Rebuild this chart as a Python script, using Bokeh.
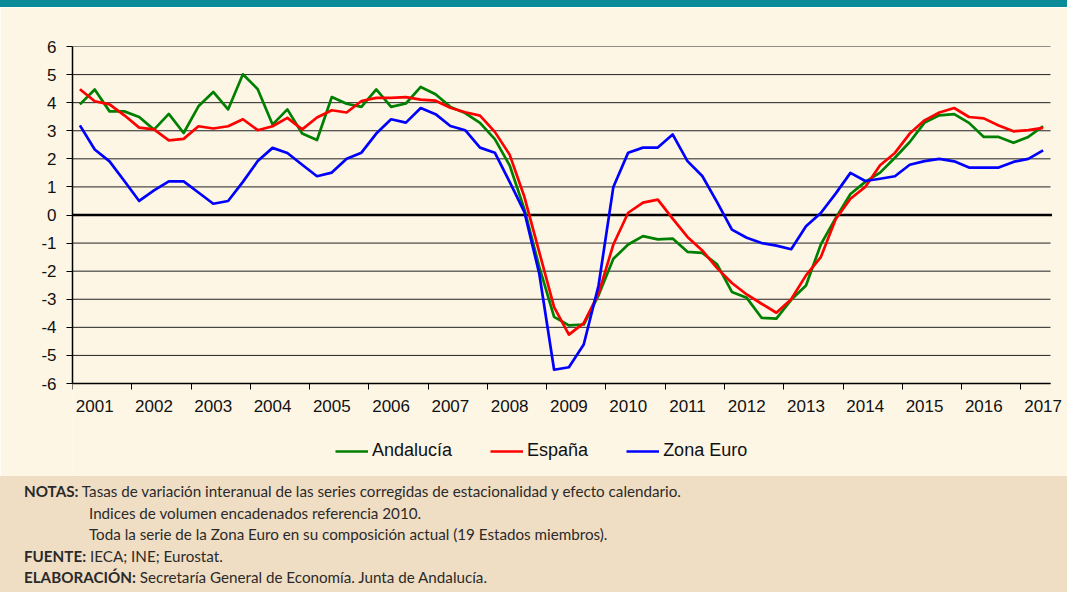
import numpy as np
from bokeh.plotting import figure
from bokeh.models import (Range1d, FixedTicker, Legend, LegendItem, Div)
from bokeh.layouts import column
from bokeh.embed import file_html
from bokeh.resources import INLINE

# ---------------- data ----------------
years = [str(y) for y in range(2001, 2018)]
andalucia = [3.94, 4.47, 3.69, 3.69, 3.49, 3.04, 3.60, 2.92, 3.87, 4.38, 3.76, 5.01, 4.48,
             3.22, 3.76, 2.90, 2.67, 4.20, 3.96, 3.85, 4.47, 3.85, 3.97, 4.56, 4.30, 3.85, 3.63,
             3.28, 2.70, 1.77, 0.20, -1.85, -3.63, -3.93, -3.90, -2.86, -1.56, -1.05, -0.75, -0.87,
             -0.84, -1.31, -1.35, -1.76, -2.74, -2.95, -3.66, -3.69, -3.02, -2.51, -1.05, -0.11, 0.75,
             1.18, 1.51, 2.04, 2.60, 3.29, 3.55, 3.59, 3.28, 2.78, 2.78, 2.57, 2.78, 3.16]
espana = [4.48, 4.05, 3.94, 3.55, 3.11, 3.05, 2.66, 2.71, 3.16, 3.08, 3.16, 3.41, 3.02,
          3.16, 3.46, 3.05, 3.47, 3.73, 3.65, 4.06, 4.17, 4.17, 4.20, 4.11, 4.07, 3.82, 3.66,
          3.54, 2.96, 2.15, 0.64, -1.32, -3.28, -4.26, -3.85, -2.80, -1.05, 0.08, 0.44, 0.55,
          -0.13, -0.78, -1.26, -1.89, -2.42, -2.83, -3.16, -3.48, -3.00, -2.15, -1.50, -0.15, 0.58,
          1.00, 1.77, 2.21, 2.90, 3.37, 3.65, 3.81, 3.49, 3.44, 3.19, 2.98, 3.02, 3.10]
zona_euro = [3.19, 2.33, 1.91, 1.21, 0.50, 0.88, 1.20, 1.20, 0.80, 0.40, 0.50, 1.18, 1.92,
             2.39, 2.21, 1.79, 1.38, 1.51, 2.00, 2.22, 2.90, 3.41, 3.29, 3.81, 3.59, 3.17, 3.02,
             2.40, 2.22, 1.18, 0.10, -2.09, -5.51, -5.42, -4.61, -2.51, 1.00, 2.22, 2.40, 2.40,
             2.87, 1.92, 1.39, 0.46, -0.52, -0.81, -1.00, -1.09, -1.22, -0.40, 0.07, 0.76, 1.50,
             1.21, 1.29, 1.38, 1.79, 1.92, 2.00, 1.91, 1.69, 1.69, 1.69, 1.89, 2.00, 2.30]
series_names = ["Andalucía", "España", "Zona Euro"]
series_colors = ["#008000", "#ff0000", "#0000ff"]
y_ticks = list(range(-6, 7))

notes_bold = ["NOTAS:", "", "", "FUENTE:", "ELABORACIÓN:"]
notes_text = ["Tasas de variación interanual de las series corregidas de estacionalidad y efecto calendario.",
              "Indices de volumen encadenados referencia 2010.",
              "Toda la serie de la Zona Euro en su composición actual (19 Estados miembros).",
              "IECA; INE; Eurostat.",
              "Secretaría General de Economía. Junta de Andalucía."]

# ---------------- styling ----------------
W = 1067
BEIGE = "#fdf6e5"
NOTES_BG = "#f0dec4"
TEAL = "#0b8a98"
FONT = "Liberation Sans"

n = len(andalucia)
xq = np.arange(n)
x_lo, x_hi = -0.5, n - 0.5          # category (quarter) extent of the axis

# layout geometry (pixels)
MAIN_H = 469
TOP_B = 39                           # frame top offset
LEFT_B = 72
AXIS_W = 978                         # pixel width of the quarter axis
FRAME_H = MAIN_H - TOP_B
PX_PER_UNIT = 337 / 12.0
y_bottom = 6 - FRAME_H / PX_PER_UNIT
px_per_q = AXIS_W / n
x_end = x_hi + (W - LEFT_B - AXIS_W) / px_per_q   # extra room so the last label is not clipped

# top teal bar
top = Div(text="", width=W, height=7,
          styles={"background-color": TEAL, "margin": "0", "padding": "0"})

# main chart
p = figure(width=W, height=MAIN_H, toolbar_location=None, output_backend="svg",
           x_range=Range1d(x_lo, x_end), y_range=Range1d(y_bottom, 6),
           min_border_left=LEFT_B, min_border_right=0, min_border_top=TOP_B, min_border_bottom=0,
           background_fill_color=BEIGE, border_fill_color=BEIGE, outline_line_color=None)

p.grid.visible = False
# horizontal gridlines limited to the axis extent
p.segment(x0=[x_lo] * len(y_ticks), x1=[x_hi] * len(y_ticks), y0=y_ticks, y1=y_ticks,
          line_color="#222222", line_width=1)
# zero line
p.segment(x0=[x_lo - 0.4], x1=[x_hi + 0.1], y0=[0], y1=[0], line_color="black", line_width=2.5)

yax = p.yaxis[0]
yax.ticker = FixedTicker(ticks=y_ticks)
yax.bounds = (-6, 6)
yax.major_label_overrides = {t: str(t) for t in y_ticks}
yax.major_tick_out = 6
yax.major_tick_in = 0
yax.minor_tick_line_color = None
yax.axis_line_color = "black"
yax.axis_line_width = 1.5
yax.major_tick_line_color = "black"
yax.major_label_text_font = FONT
yax.major_label_text_font_size = "17px"
yax.major_label_text_color = "#111111"
yax.major_label_standoff = 10

xax = p.xaxis[0]
xax.fixed_location = -6
xax.bounds = (x_lo, x_hi)
label_pos = [1 + 4 * k for k in range(len(years))]
xax.ticker = FixedTicker(ticks=label_pos, minor_ticks=[x_lo + 4 * k for k in range(len(years))])
xax.major_label_overrides = {lp: y for lp, y in zip(label_pos, years)}
xax.major_tick_line_color = None
xax.major_tick_out = 0
xax.major_tick_in = 0
xax.minor_tick_out = 6
xax.minor_tick_in = 0
xax.minor_tick_line_color = "black"
xax.axis_line_color = "black"
xax.axis_line_width = 1.5
xax.major_label_text_font = FONT
xax.major_label_text_font_size = "17px"
xax.major_label_text_color = "#111111"
xax.major_label_standoff = 10

items = []
for name, vals, col in zip(series_names, [andalucia, espana, zona_euro], series_colors):
    r = p.line(xq, vals, line_color=col, line_width=2.7, line_join="round")
    items.append(LegendItem(label=name, renderers=[r]))

lg = Legend(items=items, location=(263, 15), orientation="horizontal",
            padding=0, margin=0, spacing=38,
            border_line_color=None, background_fill_alpha=0,
            glyph_width=33, glyph_height=20, label_standoff=4,
            label_text_font=FONT, label_text_font_size="18px",
            label_text_color="#111111")
p.add_layout(lg)

# notes panel (HTML text)
rows = []
for b, t in zip(notes_bold, notes_text):
    if b:
        rows.append(f'<div style="white-space:nowrap"><b>{b}</b>&nbsp;{t}</div>')
    else:
        rows.append(f'<div style="white-space:nowrap;padding-left:65px">{t}</div>')
notes_html = ('<div style="font-family:Lato, sans-serif;font-size:15.2px;color:#2a2a2a;'
              'line-height:21.5px;padding:5px 0 0 24px;">' + "".join(rows) + '</div>')
notes = Div(text=notes_html, width=W, height=116,
            styles={"background-color": NOTES_BG, "margin": "0", "padding": "0",
                    "overflow": "hidden"})

layout = column(top, p, notes, spacing=0)
open("out.html", "w").write(file_html(layout, INLINE))
